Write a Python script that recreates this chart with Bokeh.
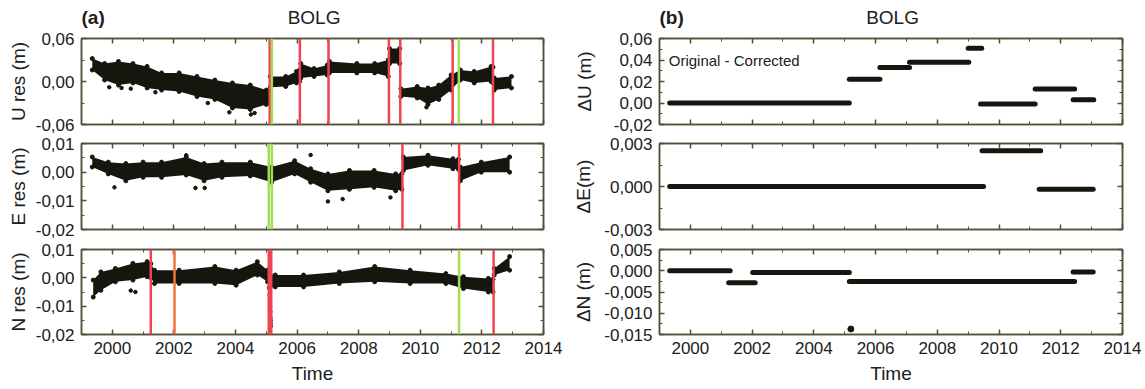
from bokeh.plotting import figure
from bokeh.models import Range1d, LinearAxis, FixedTicker, CustomJSTickFormatter, Span, Label
from bokeh.layouts import row, column
from bokeh.embed import file_html
from bokeh.resources import INLINE

# ---------------- data ----------------
x_major = [2000, 2002, 2004, 2006, 2008, 2010, 2012, 2014]
x_minor = [1999, 2001, 2003, 2005, 2007, 2009, 2011, 2013]

station = "BOLG"
panel_tags = ["(a)", "(b)"]

# (a) U residual band (upper / lower envelope of the daily scatter)
U_t = [1999.35, 1999.75, 2000.20, 2000.67, 2001.13, 2001.60, 2002.17, 2002.75, 2003.33, 2003.90,
       2004.48, 2005.00, 2005.10, 2005.13, 2005.63, 2005.98, 2006.08, 2006.12, 2006.55, 2006.98,
       2007.05, 2007.94, 2008.52, 2008.96, 2009.00, 2009.33, 2009.37, 2009.90, 2010.25, 2010.60,
       2011.00, 2011.30, 2011.75, 2012.30, 2012.36, 2012.40, 2012.96]
U_hi = [0.032, 0.025, 0.028, 0.025, 0.021, 0.012, 0.012, 0.007, 0.002, -0.002,
        -0.005, -0.012, -0.014, 0.007, 0.007, 0.014, 0.016, 0.025, 0.018, 0.023,
        0.028, 0.025, 0.025, 0.030, 0.046, 0.046, -0.010, -0.007, -0.009, -0.005,
        0.009, 0.016, 0.014, 0.021, 0.020, 0.005, 0.007]
U_lo = [0.016, 0.002, -0.005, -0.002, -0.009, -0.012, -0.014, -0.021, -0.025, -0.037,
        -0.039, -0.032, -0.030, -0.008, -0.007, -0.002, 0.000, 0.005, 0.007, 0.009,
        0.012, 0.012, 0.012, 0.007, 0.025, 0.025, -0.021, -0.023, -0.032, -0.025,
        -0.012, 0.002, -0.002, 0.000, -0.002, -0.012, -0.009]
U_out_t = [1999.90, 2000.30, 2000.60, 2001.40, 2003.10, 2003.80, 2004.50, 2004.62, 2010.20]
U_out_v = [-0.008, -0.009, -0.010, -0.015, -0.030, -0.043, -0.046, -0.044, -0.036]
U_red = [2005.11, 2006.09, 2007.02, 2008.98, 2009.35, 2011.05, 2012.36]
U_green = [2005.18, 2011.25]

# (a) E residual band
E_t = [1999.35, 1999.87, 2000.44, 2001.00, 2001.60, 2002.40, 2002.98, 2003.56, 2004.48, 2005.17,
       2005.92, 2006.44, 2007.00, 2007.70, 2008.50, 2009.20, 2009.40, 2009.45, 2010.25, 2011.06,
       2011.24, 2011.30, 2011.98, 2012.90]
E_hi = [0.0053, 0.0035, 0.0030, 0.0035, 0.0035, 0.0053, 0.0030, 0.0035, 0.0035, 0.0018,
        0.0040, 0.0012, -0.0006, 0.0006, 0.0006, -0.0006, -0.0005, 0.0053, 0.0059, 0.0047,
        0.0045, 0.0018, 0.0035, 0.0053]
E_lo = [0.0018, -0.0006, -0.0030, -0.0018, -0.0018, -0.0010, -0.0030, -0.0018, -0.0013, -0.0035,
        -0.0006, -0.0035, -0.0065, -0.0060, -0.0053, -0.0065, -0.0060, 0.0006, 0.0024, 0.0012,
        0.0010, -0.0030, 0.0000, 0.0000]
E_out_t = [2000.07, 2002.70, 2003.00, 2002.40, 2006.44, 2007.00, 2007.48, 2009.03]
E_out_v = [-0.0053, -0.0055, -0.0055, 0.0059, 0.0060, -0.0102, -0.0094, -0.0088]
E_red = [2009.42, 2011.26]
E_green = [2005.08, 2005.18]

# (a) N residual band
N_t = [1999.38, 1999.63, 2000.10, 2000.67, 2001.13, 2001.25, 2001.37, 2002.17, 2003.33, 2004.02,
       2004.71, 2005.04, 2005.10, 2005.29, 2006.21, 2007.37, 2008.52, 2009.67, 2010.83, 2011.40,
       2012.21, 2012.36, 2012.40, 2012.90]
N_hi = [-0.0008, 0.0021, 0.0033, 0.0051, 0.0057, 0.0050, 0.0027, 0.0027, 0.0040, 0.0027,
        0.0057, 0.0027, 0.0015, 0.0010, 0.0010, 0.0021, 0.0040, 0.0027, 0.0015, 0.0004,
        -0.0002, -0.0005, 0.0033, 0.0075]
N_lo = [-0.0068, -0.0044, -0.0014, -0.0008, 0.0004, 0.0000, -0.0020, -0.0020, -0.0020, -0.0026,
        0.0010, -0.0014, -0.0035, -0.0032, -0.0032, -0.0020, -0.0014, -0.0020, -0.0020, -0.0038,
        -0.0050, -0.0050, 0.0010, 0.0027]
N_out_t = [2000.60, 2000.75, 2005.11, 2005.12, 2005.12, 2005.13, 2005.13, 2005.14, 2005.14, 2005.15]
N_out_v = [-0.0045, -0.0050, -0.0060, -0.0080, -0.0100, -0.0120, -0.0140, -0.0150, -0.0160, -0.0170]
N_red = [2001.25, 2005.08, 2005.16, 2012.38]
N_orange = [2002.02]
N_green = [2011.26]

# (b) Original - Corrected offsets
dU_start = [1999.33, 2005.15, 2006.14, 2007.10, 2009.00, 2009.40, 2011.17, 2012.40]
dU_end = [2005.15, 2006.14, 2007.10, 2009.02, 2009.44, 2011.17, 2012.45, 2013.07]
dU_val = [0.000, 0.022, 0.033, 0.038, 0.051, -0.001, 0.013, 0.003]

dE_start = [1999.33, 2009.45, 2011.30]
dE_end = [2009.50, 2011.35, 2013.05]
dE_val = [0.0, 0.0025, -0.0002]

dN_start = [1999.33, 2001.24, 2002.02, 2005.15, 2012.40]
dN_end = [2001.29, 2002.10, 2005.15, 2012.45, 2013.05]
dN_val = [0.0, -0.0028, -0.0004, -0.0025, -0.0003]
dN_pt_t = [2005.20]
dN_pt_v = [-0.0137]

# ---------------- styling ----------------
FONT = "Liberation Sans"
TXT = "#202020"
FRAME = "#4f4f3a"
DOT = "#16160e"
RED = "#ee4450"
GREEN = "#a2de55"
ORANGE = "#f2743a"
TICK_FS = "17px"
LAB_FS = "19px"


def fmt(dec):
    return CustomJSTickFormatter(args=dict(d=dec), code="""
        const v = Math.abs(tick) < 1e-12 ? 0 : tick;
        return v.toFixed(d).replace('.', ',');
    """)


def style_axis(ax, ticks, minor, labels, dec=0):
    ax.ticker = FixedTicker(ticks=ticks, minor_ticks=minor)
    ax.major_tick_in = 5
    ax.major_tick_out = 0
    ax.minor_tick_in = 3
    ax.minor_tick_out = 0
    ax.axis_line_color = FRAME
    ax.axis_line_width = 1.5
    ax.major_tick_line_color = FRAME
    ax.minor_tick_line_color = FRAME
    ax.major_tick_line_width = 1.5
    if labels:
        ax.formatter = fmt(dec)
        ax.major_label_text_font = FONT
        ax.major_label_text_font_size = TICK_FS
        ax.major_label_text_color = TXT
        ax.major_label_standoff = 7
        ax.axis_label_text_font = FONT
        ax.axis_label_text_font_size = LAB_FS
        ax.axis_label_text_font_style = "normal"
        ax.axis_label_text_color = TXT
    else:
        ax.formatter = CustomJSTickFormatter(code="return '';")
        ax.major_label_text_font_size = "0px"
        ax.major_label_standoff = 0


def make_fig(yr, yt, ym, dec, ylab, ylab_standoff, width, mbl, mbr, height, mbt, mbb, bottom):
    p = figure(width=width, height=height, x_range=Range1d(1999, 2014), y_range=Range1d(*yr),
               output_backend="svg", toolbar_location=None,
               min_border_left=mbl, min_border_right=mbr, min_border_top=mbt, min_border_bottom=mbb)
    p.xgrid.visible = False
    p.ygrid.visible = False
    p.outline_line_color = FRAME
    p.outline_line_width = 1.5
    p.background_fill_color = "white"
    p.border_fill_color = "white"
    style_axis(p.xaxis[0], x_major, x_minor, bottom, 0)
    if bottom:
        p.xaxis[0].axis_label = "Time"
        p.xaxis[0].axis_label_standoff = 6
    style_axis(p.yaxis[0], yt, ym, True, dec)
    p.yaxis[0].axis_label = ylab
    p.yaxis[0].axis_label_standoff = ylab_standoff
    top = LinearAxis()
    style_axis(top, x_major, x_minor, False)
    p.add_layout(top, "above")
    right = LinearAxis()
    style_axis(right, yt, ym, False)
    p.add_layout(right, "right")
    return p


def header(width, mbl, mbr, tag):
    h = figure(width=width, height=HH, x_range=Range1d(1999, 2014), y_range=Range1d(0, 1),
               output_backend="svg", toolbar_location=None, x_axis_location=None, y_axis_location=None,
               min_border_left=mbl, min_border_right=mbr, min_border_top=0, min_border_bottom=0)
    h.xgrid.visible = False
    h.ygrid.visible = False
    h.outline_line_color = None
    h.add_layout(Label(x=1999, y=0.45, text=tag, text_font=FONT, text_font_size="19px",
                       text_font_style="bold", text_color=TXT, text_baseline="middle", text_align="left"))
    h.add_layout(Label(x=2006.55, y=0.45, text=station, text_font=FONT, text_font_size="19px",
                       text_color=TXT, text_baseline="middle", text_align="center"))
    return h


def band(p, t, lo, hi, out_t, out_v):
    p.varea(x=t, y1=lo, y2=hi, fill_color=DOT)
    p.scatter(t, hi, size=4, color=DOT)
    p.scatter(t, lo, size=4, color=DOT)
    p.scatter(out_t, out_v, size=3.5, color=DOT)


def vlines(p, locs, color):
    for loc in locs:
        p.add_layout(Span(location=loc, dimension="height", line_color=color, line_width=2.5))


def steps(p, s, e, v):
    p.segment(x0=s, y0=v, x1=e, y1=v, line_width=5, line_color=DOT, line_cap="round")


# geometry (bokeh's page template has no body margin)
HH = 30
LW, LMB, LMR = 563, 81, 20
RW, RMB, RMR = 581, 96, 22
H1, T1, B1 = 103, 8, 9
H2, T2, B2 = 106, 10, 10
H3, T3, B3 = 149, 10, 54

# ---- left column (a)
hA = header(LW, LMB, LMR, panel_tags[0])

fU = make_fig((-0.06, 0.06), [-0.06, 0, 0.06], [-0.03, 0.03], 2, "U res (m)", 4,
              LW, LMB, LMR, H1, T1, B1, False)
band(fU, U_t, U_lo, U_hi, U_out_t, U_out_v)
vlines(fU, U_red, RED)
vlines(fU, U_green, GREEN)

fE = make_fig((-0.02, 0.01), [-0.02, -0.01, 0, 0.01], [-0.015, -0.005, 0.005], 2, "E res (m)", 4,
              LW, LMB, LMR, H2, T2, B2, False)
band(fE, E_t, E_lo, E_hi, E_out_t, E_out_v)
vlines(fE, E_red, RED)
vlines(fE, E_green, GREEN)

fN = make_fig((-0.02, 0.01), [-0.02, -0.01, 0, 0.01], [-0.015, -0.005, 0.005], 2, "N res (m)", 4,
              LW, LMB, LMR, H3, T3, B3, True)
band(fN, N_t, N_lo, N_hi, N_out_t, N_out_v)
vlines(fN, N_red, RED)
vlines(fN, N_orange, ORANGE)
vlines(fN, N_green, GREEN)

# ---- right column (b)
hB = header(RW, RMB, RMR, panel_tags[1])

gU = make_fig((-0.02, 0.06), [-0.02, 0, 0.02, 0.04, 0.06], [-0.01, 0.01, 0.03, 0.05], 2, "\u0394U (m)", 16,
              RW, RMB, RMR, H1, T1, B1, False)
steps(gU, dU_start, dU_end, dU_val)
gU.add_layout(Label(x=1999.3, y=0.04, text="Original - Corrected", text_font=FONT,
                    text_font_size="15px", text_color=TXT, text_baseline="middle", text_align="left"))

gE = make_fig((-0.003, 0.003), [-0.003, 0, 0.003], [-0.0015, 0.0015], 3, "\u0394E(m)", 7,
              RW, RMB, RMR, H2, T2, B2, False)
steps(gE, dE_start, dE_end, dE_val)

gN = make_fig((-0.015, 0.005), [-0.015, -0.01, -0.005, 0, 0.005], [-0.0125, -0.0075, -0.0025, 0.0025], 3,
              "\u0394N (m)", 7, RW, RMB, RMR, H3, T3, B3, True)
steps(gN, dN_start, dN_end, dN_val)
gN.scatter(dN_pt_t, dN_pt_v, size=6, color=DOT)

layout = row(column(hA, fU, fE, fN), column(hB, gU, gE, gN))
open("out.html", "w").write(file_html(layout, INLINE))
